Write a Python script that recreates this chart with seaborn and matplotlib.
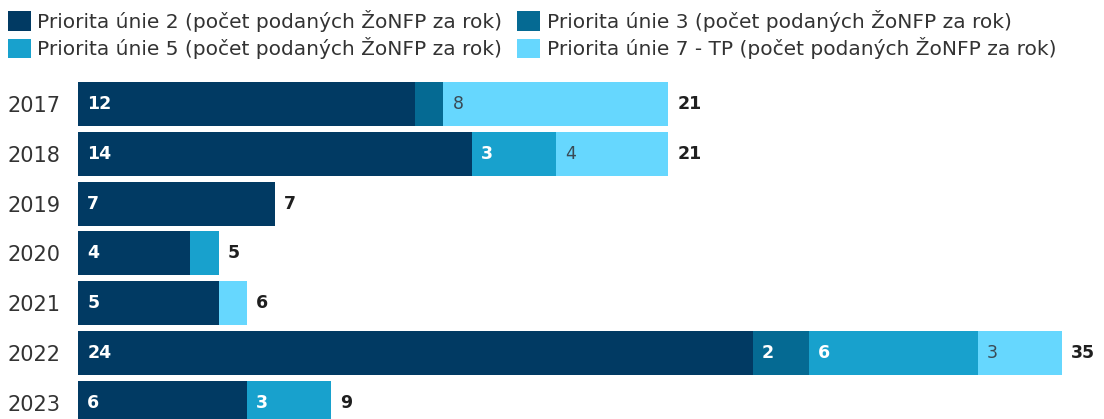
import numpy as np
import pandas as pd
import seaborn as sns
import matplotlib.pyplot as plt
from matplotlib.patches import Patch

years = ['2017', '2018', '2019', '2020', '2021', '2022', '2023']
p2 = [12, 14, 7, 4, 5, 24, 6]
p3 = [1, 0, 0, 0, 0, 2, 0]
p5 = [0, 3, 0, 1, 0, 6, 3]
p7 = [8, 4, 0, 0, 1, 3, 0]

series_names = [
    'Priorita únie 2 (počet podaných ŽoNFP za rok)',
    'Priorita únie 3 (počet podaných ŽoNFP za rok)',
    'Priorita únie 5 (počet podaných ŽoNFP za rok)',
    'Priorita únie 7 - TP (počet podaných ŽoNFP za rok)',
]
colors = ['#013a63', '#056a93', '#18a1cd', '#66d7fe']
label_colors = ['white', 'white', 'white', '#3a4a55']

sns.set_style('white')
plt.rcParams['font.family'] = ['DejaVu Sans']

df = pd.DataFrame({'year': years, 'p2': p2, 'p3': p3, 'p5': p5, 'p7': p7})
vals = df[['p2', 'p3', 'p5', 'p7']].to_numpy()
cum = np.cumsum(vals, axis=1)
totals = cum[:, -1]

W, H = 1104, 419
fig = plt.figure(figsize=(W / 100, H / 100), dpi=100)
ax = fig.add_axes([78 / W, 0, 1 - 78 / W, (H - 78) / H])

# stacked look: draw cumulative sums from the largest down
for k in range(3, -1, -1):
    sns.barplot(x=cum[:, k], y=df['year'], orient='h', color=colors[k],
                width=0.88, saturation=1, ax=ax, linewidth=0)

for i in range(len(years)):
    for k in range(4):
        v = vals[i, k]
        if v < 2:
            continue
        left = cum[i, k] - v
        ax.text(left + 0.33, i, str(v), va='center', ha='left',
                color=label_colors[k], fontsize=12.5,
                fontweight='bold' if k < 3 else 'normal')
    ax.text(totals[i] + 0.33, i, str(totals[i]), va='center', ha='left',
            color='#1f1f1f', fontsize=12.5, fontweight='bold')

ax.set_xlim(0, 36.5)
ax.set_ylim(6.325, -0.522)
ax.set_xlabel('')
ax.set_ylabel('')
ax.set_xticks([])
ax.tick_params(axis='y', length=0, labelsize=15, labelcolor='#333333', pad=12.5)
sns.despine(ax=ax, left=True, bottom=True)

# legend fills row by row like the original
order = [0, 2, 1, 3]
handles = [Patch(facecolor=colors[j], edgecolor='none') for j in order]
labels = [series_names[j] for j in order]
fig.legend(handles, labels, loc='upper left', bbox_to_anchor=(8 / W, 1 - 10 / H),
           ncol=2, frameon=False, fontsize=14.5, handlelength=1.15,
           handleheight=1.1, handletextpad=0.3, columnspacing=0.75,
           labelspacing=0.25, borderpad=0, borderaxespad=0, labelcolor='#333333')

fig.savefig('out.png', dpi=100)
